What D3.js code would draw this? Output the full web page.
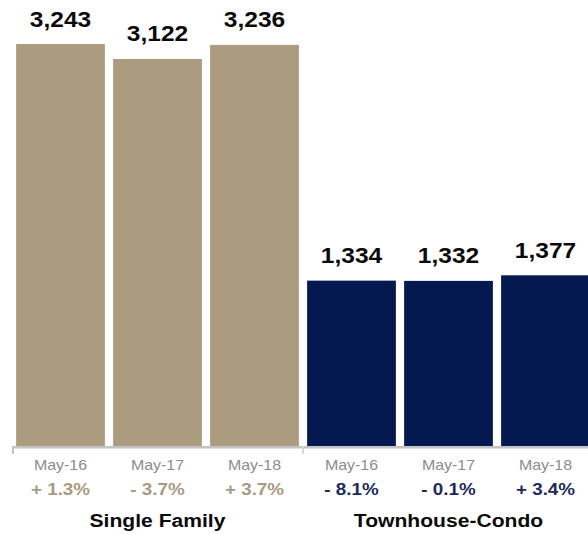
<!DOCTYPE html>
<html>
<head>
<meta charset="utf-8">
<script src="https://cdn.jsdelivr.net/npm/d3@7"></script>
<style>
  html, body { margin: 0; padding: 0; background: #fff; }
  svg { display: block; }
  text { font-family: "Liberation Sans", Arial, Helvetica, sans-serif; }
</style>
</head>
<body>
<svg id="chart" width="588" height="534"></svg>
<script>
// Closed sales by property type, May of each year
const groups = ["Single Family", "Townhouse-Condo"];
const periods = ["May-16", "May-17", "May-18"];
const singleFamily = [3243, 3122, 3236];
const townhouseCondo = [1334, 1332, 1377];
const singleFamilyChange = ["+ 1.3%", "- 3.7%", "+ 3.7%"];
const townhouseCondoChange = ["- 8.1%", "- 0.1%", "+ 3.4%"];

const groupColors = ["#ab9c80", "#03194f"];
const changeColors = ["#a89a7e", "#1c2a5c"];

const rows = [];
[singleFamily, townhouseCondo].forEach((vals, g) => {
  vals.forEach((v, i) => {
    rows.push({
      key: groups[g] + "|" + periods[i],
      group: g,
      period: periods[i],
      value: v,
      change: (g === 0 ? singleFamilyChange : townhouseCondoChange)[i]
    });
  });
});

const svg = d3.select("#chart");
const x0 = 12, x1 = 594, baseY = 446;
const stretch = 1.14;

const x = d3.scaleBand()
  .domain(rows.map(d => d.key))
  .range([x0, x1])
  .paddingInner(0.085)
  .paddingOuter(0.0425);

const y = d3.scaleLinear()
  .domain([0, 3243])
  .range([baseY, 44]);

const fmt = d3.format(",");

// Bars
svg.append("g").selectAll("rect")
  .data(rows)
  .join("rect")
  .attr("x", d => x(d.key))
  .attr("width", x.bandwidth())
  .attr("y", d => y(d.value))
  .attr("height", d => baseY - y(d.value))
  .attr("fill", d => groupColors[d.group]);

// Value labels above bars
svg.append("g").selectAll("text")
  .data(rows)
  .join("text")
  .attr("transform", d => `translate(${x(d.key) + x.bandwidth() / 2},${y(d.value) - 17.5}) scale(${stretch},1)`)
  .attr("text-anchor", "middle")
  .attr("font-size", 21.5)
  .attr("font-weight", "bold")
  .attr("fill", "#0a0a0a")
  .text(d => fmt(d.value));

// Baseline axis
const axis = svg.append("g");
axis.append("line")
  .attr("x1", x0).attr("x2", 588)
  .attr("y1", baseY + 1.2).attr("y2", baseY + 1.2)
  .attr("stroke", "#c3c3c3").attr("stroke-width", 2.5);
axis.append("line")
  .attr("x1", x0 + 1).attr("x2", x0 + 1)
  .attr("y1", baseY).attr("y2", 454)
  .attr("stroke", "#c3c3c3").attr("stroke-width", 2);
const groupSplit = (x(rows[2].key) + x.bandwidth() + x(rows[3].key)) / 2;
axis.append("line")
  .attr("x1", groupSplit).attr("x2", groupSplit)
  .attr("y1", baseY).attr("y2", 454)
  .attr("stroke", "#d6d6d6").attr("stroke-width", 2);

// Period labels
svg.append("g").selectAll("text")
  .data(rows)
  .join("text")
  .attr("transform", d => `translate(${x(d.key) + x.bandwidth() / 2},469.5) scale(${stretch},1)`)
  .attr("text-anchor", "middle")
  .attr("font-size", 14)
  .attr("fill", "#8c8c8c")
  .text(d => d.period);

// Year-over-year change labels
svg.append("g").selectAll("text")
  .data(rows)
  .join("text")
  .attr("transform", d => `translate(${x(d.key) + x.bandwidth() / 2},495) scale(${stretch},1)`)
  .attr("text-anchor", "middle")
  .attr("font-size", 16.5)
  .attr("font-weight", "bold")
  .attr("fill", d => changeColors[d.group])
  .text(d => d.change);

// Group titles
const groupCenters = [(x0 + groupSplit) / 2, (groupSplit + x1) / 2];
svg.append("g").selectAll("text")
  .data(groups)
  .join("text")
  .attr("transform", (d, i) => `translate(${groupCenters[i]},526.5) scale(${stretch},1)`)
  .attr("text-anchor", "middle")
  .attr("font-size", 18.5)
  .attr("font-weight", "bold")
  .attr("fill", "#0a0a0a")
  .text(d => d);
</script>
</body>
</html>
